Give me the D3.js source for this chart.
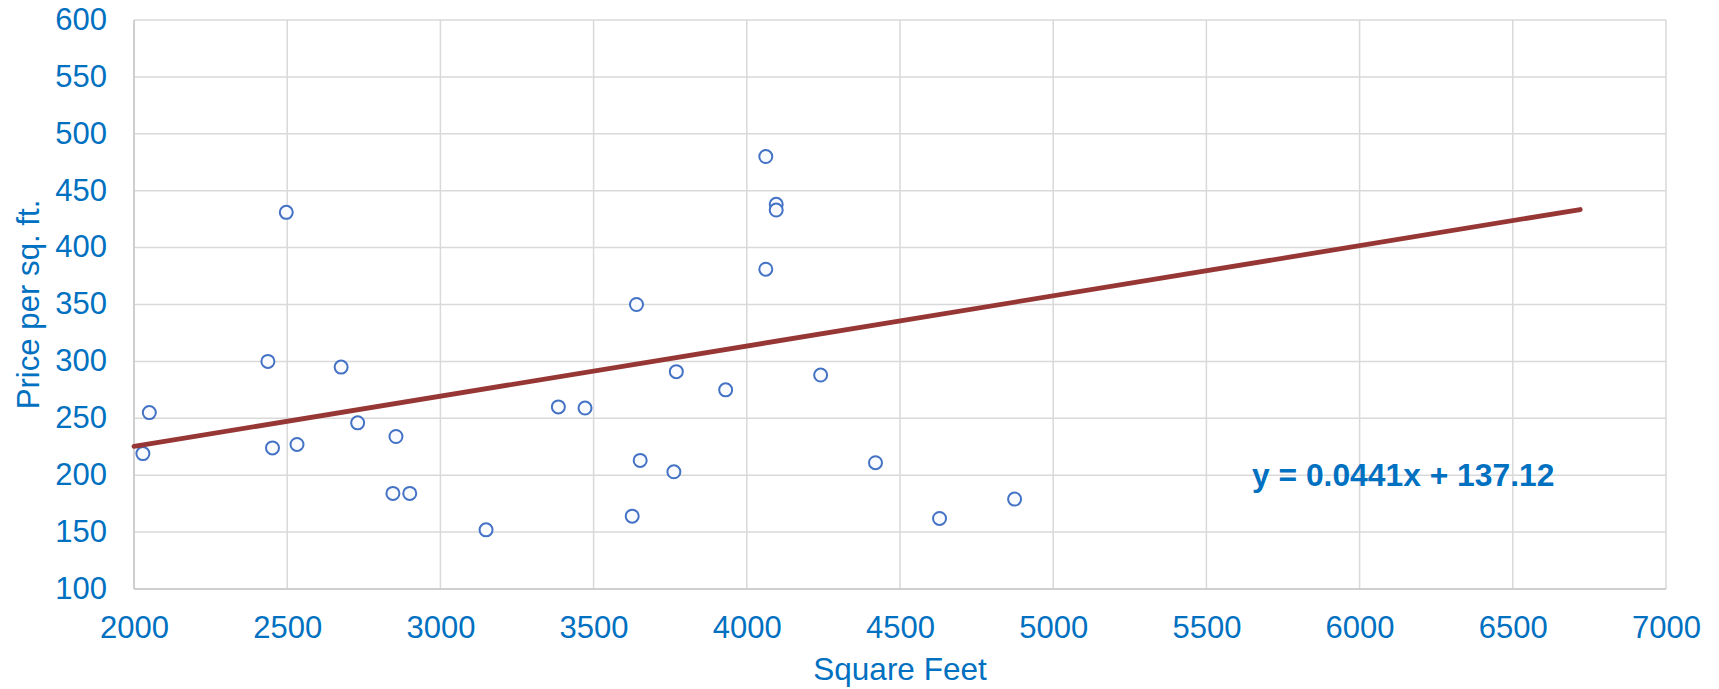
<!DOCTYPE html>
<html>
<head>
<meta charset="utf-8">
<script src="https://cdn.jsdelivr.net/npm/d3@7"></script>
<style>
  html, body { margin: 0; padding: 0; background: #fff; }
  svg { display: block; }
  text { font-family: "Liberation Sans", Arial, sans-serif; }
</style>
</head>
<body>
<svg id="chart" width="1719" height="689"></svg>
<script>
// Data: square feet vs price per sq. ft.
const sqft  = [2029, 2050, 2437, 2452, 2497, 2532, 2676, 2730, 2845, 2855, 2900, 3149, 3385, 3472,
               3626, 3640, 3652, 3762, 3770, 3931, 4062, 4062, 4096, 4096, 4241, 4420, 4629, 4874];
const price = [219, 255, 300, 224, 431, 227, 295, 246, 184, 234, 184, 152, 260, 259,
               164, 350, 213, 203, 291, 275, 480, 381, 438, 433, 288, 211, 162, 179];
const xTicks = [2000, 2500, 3000, 3500, 4000, 4500, 5000, 5500, 6000, 6500, 7000];
const yTicks = [100, 150, 200, 250, 300, 350, 400, 450, 500, 550, 600];
const trendSlope = 0.0441, trendIntercept = 137.12;
const trendRange = [2000, 6720];
const equationLabel = "y = 0.0441x + 137.12";
const xTitle = "Square Feet", yTitle = "Price per sq. ft.";

const svg = d3.select("#chart");
const mLeft = 134, mRight = 1666, mTop = 20, mBottom = 589;
const x = d3.scaleLinear().domain([2000, 7000]).range([mLeft, mRight]);
const y = d3.scaleLinear().domain([100, 600]).range([mBottom, mTop]);
const blue = "#0070C0";
const fs = 31;

// gridlines
const grid = svg.append("g");
grid.selectAll("line.v").data(xTicks).join("line").attr("class", "v")
  .attr("x1", d => x(d)).attr("x2", d => x(d)).attr("y1", mTop).attr("y2", mBottom)
  .attr("stroke", "#d9d9d9").attr("stroke-width", 1.5);
grid.selectAll("line.h").data(yTicks).join("line").attr("class", "h")
  .attr("y1", d => y(d)).attr("y2", d => y(d)).attr("x1", mLeft).attr("x2", mRight)
  .attr("stroke", "#d9d9d9").attr("stroke-width", 1.5);
// axis lines
svg.append("line").attr("x1", mLeft).attr("x2", mLeft).attr("y1", mTop).attr("y2", mBottom)
  .attr("stroke", "#c8c8c8").attr("stroke-width", 1.5);
svg.append("line").attr("x1", mLeft).attr("x2", mRight).attr("y1", mBottom).attr("y2", mBottom)
  .attr("stroke", "#c8c8c8").attr("stroke-width", 1.5);

// axes (labels only)
const xAxis = d3.axisBottom(x).tickValues(xTicks).tickFormat(d3.format("d")).tickSize(0).tickPadding(0);
const gx = svg.append("g").attr("transform", `translate(0,${mBottom})`).call(xAxis);
gx.select(".domain").remove();
gx.selectAll("text").attr("fill", blue).attr("font-size", fs)
  .attr("dy", null).attr("y", 49).attr("font-family", "Liberation Sans, Arial, sans-serif");

const yAxis = d3.axisLeft(y).tickValues(yTicks).tickFormat(d3.format("d")).tickSize(0).tickPadding(0);
const gy = svg.append("g").attr("transform", `translate(${mLeft},0)`).call(yAxis);
gy.select(".domain").remove();
gy.selectAll("text").attr("fill", blue).attr("font-size", fs)
  .attr("x", -27).attr("dy", "0.3em").attr("font-family", "Liberation Sans, Arial, sans-serif");

// points
svg.append("g").selectAll("circle").data(sqft.map((s, i) => [s, price[i]])).join("circle")
  .attr("cx", d => x(d[0])).attr("cy", d => y(d[1])).attr("r", 6.5)
  .attr("fill", "#fafbfe").attr("stroke", "#4472C4").attr("stroke-width", 2);

// trendline
svg.append("line")
  .attr("x1", x(trendRange[0])).attr("y1", y(trendSlope * trendRange[0] + trendIntercept))
  .attr("x2", x(trendRange[1])).attr("y2", y(trendSlope * trendRange[1] + trendIntercept))
  .attr("stroke", "#973735").attr("stroke-width", 4.8).attr("stroke-linecap", "round");

// equation
svg.append("text").attr("x", 1252).attr("y", 486).attr("fill", blue)
  .attr("font-size", 31.8).attr("font-weight", "bold").text(equationLabel);

// axis titles
svg.append("text").attr("x", (mLeft + mRight) / 2).attr("y", 680).attr("text-anchor", "middle")
  .attr("fill", blue).attr("font-size", 31.5).text(xTitle);
svg.append("text").attr("transform", `translate(39,${(mTop + mBottom) / 2}) rotate(-90)`)
  .attr("text-anchor", "middle").attr("fill", blue).attr("font-size", 31.2).text(yTitle);
</script>
</body>
</html>
